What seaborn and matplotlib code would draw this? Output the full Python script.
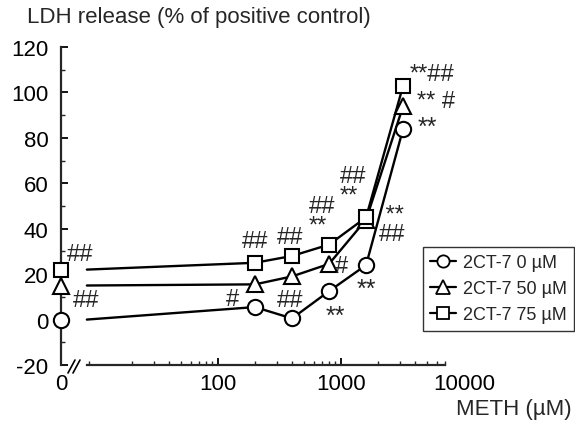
import numpy as np
import pandas as pd
import matplotlib
matplotlib.use("Agg")
import matplotlib.pyplot as plt
import seaborn as sns
from matplotlib.lines import Line2D
from matplotlib.ticker import FixedLocator, NullFormatter

# ---------------- data ----------------
meth_conc = [0, 200, 400, 800, 1600, 3200]          # µM
ldh_0uM = [0, 5.5, 0.5, 12.5, 24, 84]
ldh_50uM = [15, 15.5, 19, 24.5, 44, 94]
ldh_75uM = [22, 25, 28, 33, 45, 103]
series_labels = ["2CT-7 0 µM", "2CT-7 50 µM", "2CT-7 75 µM"]
series_markers = ["o", "^", "s"]
x_tick_labels = ["0", "100", "1000", "10000"]

# significance marks: (series index, point index, text, dx px, dy px)
annotations = [
    (2, 0, "##", 19, -16), (1, 0, "##", 25, 15),
    (2, 1, "##", 0, -22), (0, 1, "#", -22, -8),
    (2, 2, "##", -2, -19), (1, 2, "##", -2, 24),
    (2, 3, "##\n**", -7, -29),
    (1, 3, "#", 12, 2), (0, 3, "**", 6, 25),
    (2, 4, "##\n**", -13, -32),
    (0, 4, "**", 0, 24),
    (2, 4, " **\n##", 26, 7),
    (2, 5, "**##", 29, -12), (1, 5, "** #", 33, -5), (0, 5, "**", 24, -2),
]

# axis-break geometry
ZERO_X = 5.3      # where the "0" concentration sits (on the y axis)
BREAK_X = 8.6     # where the log axis starts after the break
AXIS_END = 7000

sns.set_style("ticks")
plt.rcParams["font.family"] = ["Liberation Sans", "DejaVu Sans"]
plt.rcParams["axes.unicode_minus"] = False

fig = plt.figure(figsize=(5.75, 4.27), dpi=100)
ax = fig.add_axes([61 / 575, (427 - 366) / 427, (464 - 61) / 575, (366 - 48) / 427])

all_vals = [ldh_0uM, ldh_50uM, ldh_75uM]
rows = []
for lab, vals in zip(series_labels, all_vals):
    for c, v in zip(meth_conc, vals):
        rows.append({"series": lab, "conc": c, "ldh": v,
                     "x_line": BREAK_X if c == 0 else c,
                     "x_mark": ZERO_X if c == 0 else c})
df = pd.DataFrame(rows)

MS = {"o": 11, "^": 12, "s": 10.5}

# lines
for lab in series_labels:
    sub = df[df.series == lab]
    sns.lineplot(data=sub, x="x_line", y="ldh", ax=ax, color="black",
                 linewidth=1.7, zorder=2, legend=False)
# markers
for lab, mk in zip(series_labels, series_markers):
    sub = df[df.series == lab]
    ax.plot(sub["x_mark"], sub["ldh"], linestyle="none", marker=mk,
            markersize=MS[mk], markerfacecolor="white", markeredgecolor="black",
            markeredgewidth=1.5, zorder=4, clip_on=False)

ax.set_xscale("log")
ax.set_xlim(ZERO_X, 10000)
ax.set_ylim(-20, 120)

ax.spines["top"].set_visible(False)
ax.spines["right"].set_visible(False)
ax.spines["bottom"].set_bounds(BREAK_X, AXIS_END)
for s in ("left", "bottom"):
    ax.spines[s].set_linewidth(1.6)

ax.set_xticks([ZERO_X, 100, 1000, 10000])
ax.set_xticklabels(x_tick_labels)
minor = [m * 10 ** d for d in range(0, 4) for m in range(2, 10)]
minor = [m for m in minor if BREAK_X <= m <= AXIS_END]
ax.xaxis.set_minor_locator(FixedLocator(minor))
ax.xaxis.set_minor_formatter(NullFormatter())
ax.set_yticks(np.arange(-20, 121, 20))
ax.yaxis.set_minor_locator(FixedLocator(np.arange(-10, 120, 20)))
ax.tick_params(axis="both", which="major", direction="in", length=5, width=1.3,
               labelsize=16, color="black", labelcolor="black")
ax.tick_params(axis="x", which="major", pad=6)
ax.tick_params(axis="y", which="major", pad=9)
ax.tick_params(axis="both", which="minor", direction="in", length=3, width=1)
xt = ax.xaxis.get_major_ticks()
xt[0].tick1line.set_visible(False)
xt[3].tick1line.set_visible(False)
ax.set_xlabel("")
ax.set_ylabel("")

# significance text
for si, pi, txt, dx, dy in annotations:
    x = meth_conc[pi] if meth_conc[pi] != 0 else ZERO_X
    y = all_vals[si][pi]
    fs = 18 if set(txt) <= {"*"} else 17
    ax.annotate(txt, xy=(x, y), xytext=(dx * 0.72, -dy * 0.72),
                textcoords="offset points", ha="center", va="center",
                multialignment="left", linespacing=0.85,
                fontsize=fs, zorder=5, annotation_clip=False)

# axis break marks
for off in (0, 5):
    fig.add_artist(Line2D([(68 + off) / 575, (75 + off) / 575],
                          [1 - 374 / 427, 1 - 361 / 427],
                          color="black", linewidth=1.2))

fig.text(27 / 575, 1 - 18 / 427, "LDH release (% of positive control)",
         fontsize=16, ha="left", va="center")
fig.text(572 / 575, 1 - 410 / 427, "METH (µM)", fontsize=16,
         ha="right", va="center")

handles = [Line2D([0], [0], color="black", linewidth=1.6, marker=mk,
                  markersize=MS[mk] * 0.8,
                  markerfacecolor="white", markeredgecolor="black",
                  markeredgewidth=1.3) for mk in series_markers]
leg = fig.legend(handles, series_labels, loc="upper right",
                 bbox_to_anchor=(574 / 575, 1 - 248 / 427),
                 fontsize=13, frameon=True, fancybox=False,
                 handlelength=1.4, handletextpad=0.4, labelspacing=0.5,
                 borderpad=0.4, borderaxespad=0)
leg.get_frame().set_edgecolor("black")
leg.get_frame().set_linewidth(1.0)

fig.savefig("out.png", dpi=100)
